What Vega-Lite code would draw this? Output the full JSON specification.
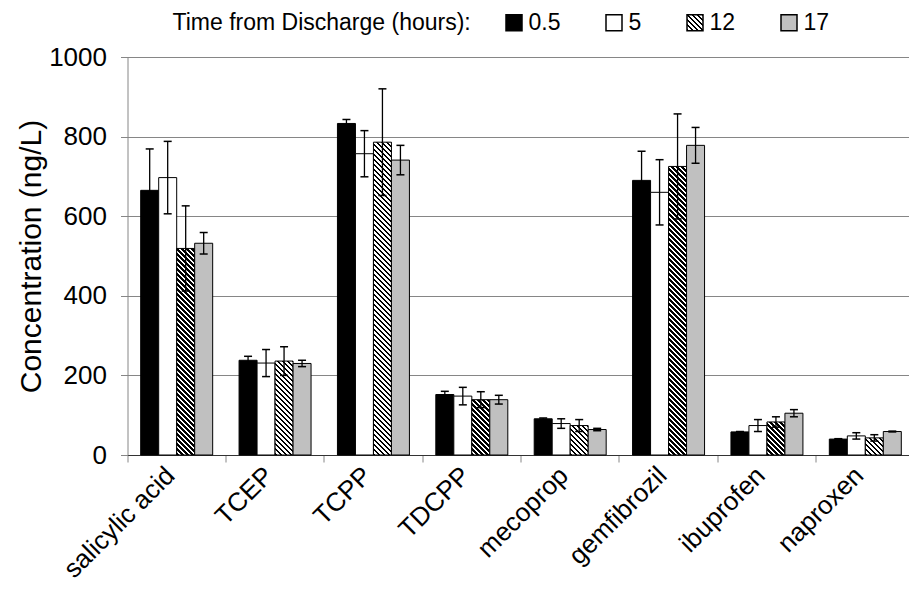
{
  "$schema": "https://vega.github.io/schema/vega-lite/v6.json",
  "width": 787,
  "height": 398,
  "autosize": {"type": "none"},
  "padding": {"left": 127.5, "top": 57, "right": 0, "bottom": 142},
  "background": "white",
  "config": {
    "font": "Liberation Sans",
    "view": {"stroke": null},
    "axis": {"labelFont": "Liberation Sans", "titleFont": "Liberation Sans", "labelColor": "#000", "titleColor": "#000"},
    "axisY": {
      "grid": true, "gridColor": "#868686", "gridWidth": 1, "tickCount": 5, "format": "d",
      "domainColor": "#868686", "tickColor": "#868686", "tickSize": 7,
      "labelFontSize": 26, "labelPadding": 14,
      "titleFontSize": 30, "titleFontWeight": "normal", "titlePadding": 2
    }
  },
  "params": [
    {"name": "hatch", "value": [
      {"offset":0,"color":"#000"},
      {"offset":0.00625,"color":"#000"},{"offset":0.00625,"color":"#fff"},{"offset":0.0125,"color":"#fff"},{"offset":0.0125,"color":"#000"},
      {"offset":0.01875,"color":"#000"},{"offset":0.01875,"color":"#fff"},{"offset":0.025,"color":"#fff"},{"offset":0.025,"color":"#000"},
      {"offset":0.03125,"color":"#000"},{"offset":0.03125,"color":"#fff"},{"offset":0.0375,"color":"#fff"},{"offset":0.0375,"color":"#000"},
      {"offset":0.04375,"color":"#000"},{"offset":0.04375,"color":"#fff"},{"offset":0.05,"color":"#fff"},{"offset":0.05,"color":"#000"},
      {"offset":0.05625,"color":"#000"},{"offset":0.05625,"color":"#fff"},{"offset":0.0625,"color":"#fff"},{"offset":0.0625,"color":"#000"},
      {"offset":0.06875,"color":"#000"},{"offset":0.06875,"color":"#fff"},{"offset":0.075,"color":"#fff"},{"offset":0.075,"color":"#000"},
      {"offset":0.08125,"color":"#000"},{"offset":0.08125,"color":"#fff"},{"offset":0.0875,"color":"#fff"},{"offset":0.0875,"color":"#000"},
      {"offset":0.09375,"color":"#000"},{"offset":0.09375,"color":"#fff"},{"offset":0.1,"color":"#fff"},{"offset":0.1,"color":"#000"},
      {"offset":0.10625,"color":"#000"},{"offset":0.10625,"color":"#fff"},{"offset":0.1125,"color":"#fff"},{"offset":0.1125,"color":"#000"},
      {"offset":0.11875,"color":"#000"},{"offset":0.11875,"color":"#fff"},{"offset":0.125,"color":"#fff"},{"offset":0.125,"color":"#000"},
      {"offset":0.13125,"color":"#000"},{"offset":0.13125,"color":"#fff"},{"offset":0.1375,"color":"#fff"},{"offset":0.1375,"color":"#000"},
      {"offset":0.14375,"color":"#000"},{"offset":0.14375,"color":"#fff"},{"offset":0.15,"color":"#fff"},{"offset":0.15,"color":"#000"},
      {"offset":0.15625,"color":"#000"},{"offset":0.15625,"color":"#fff"},{"offset":0.1625,"color":"#fff"},{"offset":0.1625,"color":"#000"},
      {"offset":0.16875,"color":"#000"},{"offset":0.16875,"color":"#fff"},{"offset":0.175,"color":"#fff"},{"offset":0.175,"color":"#000"},
      {"offset":0.18125,"color":"#000"},{"offset":0.18125,"color":"#fff"},{"offset":0.1875,"color":"#fff"},{"offset":0.1875,"color":"#000"},
      {"offset":0.19375,"color":"#000"},{"offset":0.19375,"color":"#fff"},{"offset":0.2,"color":"#fff"},{"offset":0.2,"color":"#000"},
      {"offset":0.20625,"color":"#000"},{"offset":0.20625,"color":"#fff"},{"offset":0.2125,"color":"#fff"},{"offset":0.2125,"color":"#000"},
      {"offset":0.21875,"color":"#000"},{"offset":0.21875,"color":"#fff"},{"offset":0.225,"color":"#fff"},{"offset":0.225,"color":"#000"},
      {"offset":0.23125,"color":"#000"},{"offset":0.23125,"color":"#fff"},{"offset":0.2375,"color":"#fff"},{"offset":0.2375,"color":"#000"},
      {"offset":0.24375,"color":"#000"},{"offset":0.24375,"color":"#fff"},{"offset":0.25,"color":"#fff"},{"offset":0.25,"color":"#000"},
      {"offset":0.25625,"color":"#000"},{"offset":0.25625,"color":"#fff"},{"offset":0.2625,"color":"#fff"},{"offset":0.2625,"color":"#000"},
      {"offset":0.26875,"color":"#000"},{"offset":0.26875,"color":"#fff"},{"offset":0.275,"color":"#fff"},{"offset":0.275,"color":"#000"},
      {"offset":0.28125,"color":"#000"},{"offset":0.28125,"color":"#fff"},{"offset":0.2875,"color":"#fff"},{"offset":0.2875,"color":"#000"},
      {"offset":0.29375,"color":"#000"},{"offset":0.29375,"color":"#fff"},{"offset":0.3,"color":"#fff"},{"offset":0.3,"color":"#000"},
      {"offset":0.30625,"color":"#000"},{"offset":0.30625,"color":"#fff"},{"offset":0.3125,"color":"#fff"},{"offset":0.3125,"color":"#000"},
      {"offset":0.31875,"color":"#000"},{"offset":0.31875,"color":"#fff"},{"offset":0.325,"color":"#fff"},{"offset":0.325,"color":"#000"},
      {"offset":0.33125,"color":"#000"},{"offset":0.33125,"color":"#fff"},{"offset":0.3375,"color":"#fff"},{"offset":0.3375,"color":"#000"},
      {"offset":0.34375,"color":"#000"},{"offset":0.34375,"color":"#fff"},{"offset":0.35,"color":"#fff"},{"offset":0.35,"color":"#000"},
      {"offset":0.35625,"color":"#000"},{"offset":0.35625,"color":"#fff"},{"offset":0.3625,"color":"#fff"},{"offset":0.3625,"color":"#000"},
      {"offset":0.36875,"color":"#000"},{"offset":0.36875,"color":"#fff"},{"offset":0.375,"color":"#fff"},{"offset":0.375,"color":"#000"},
      {"offset":0.38125,"color":"#000"},{"offset":0.38125,"color":"#fff"},{"offset":0.3875,"color":"#fff"},{"offset":0.3875,"color":"#000"},
      {"offset":0.39375,"color":"#000"},{"offset":0.39375,"color":"#fff"},{"offset":0.4,"color":"#fff"},{"offset":0.4,"color":"#000"},
      {"offset":0.40625,"color":"#000"},{"offset":0.40625,"color":"#fff"},{"offset":0.4125,"color":"#fff"},{"offset":0.4125,"color":"#000"},
      {"offset":0.41875,"color":"#000"},{"offset":0.41875,"color":"#fff"},{"offset":0.425,"color":"#fff"},{"offset":0.425,"color":"#000"},
      {"offset":0.43125,"color":"#000"},{"offset":0.43125,"color":"#fff"},{"offset":0.4375,"color":"#fff"},{"offset":0.4375,"color":"#000"},
      {"offset":0.44375,"color":"#000"},{"offset":0.44375,"color":"#fff"},{"offset":0.45,"color":"#fff"},{"offset":0.45,"color":"#000"},
      {"offset":0.45625,"color":"#000"},{"offset":0.45625,"color":"#fff"},{"offset":0.4625,"color":"#fff"},{"offset":0.4625,"color":"#000"},
      {"offset":0.46875,"color":"#000"},{"offset":0.46875,"color":"#fff"},{"offset":0.475,"color":"#fff"},{"offset":0.475,"color":"#000"},
      {"offset":0.48125,"color":"#000"},{"offset":0.48125,"color":"#fff"},{"offset":0.4875,"color":"#fff"},{"offset":0.4875,"color":"#000"},
      {"offset":0.49375,"color":"#000"},{"offset":0.49375,"color":"#fff"},{"offset":0.5,"color":"#fff"},{"offset":0.5,"color":"#000"},
      {"offset":0.50625,"color":"#000"},{"offset":0.50625,"color":"#fff"},{"offset":0.5125,"color":"#fff"},{"offset":0.5125,"color":"#000"},
      {"offset":0.51875,"color":"#000"},{"offset":0.51875,"color":"#fff"},{"offset":0.525,"color":"#fff"},{"offset":0.525,"color":"#000"},
      {"offset":0.53125,"color":"#000"},{"offset":0.53125,"color":"#fff"},{"offset":0.5375,"color":"#fff"},{"offset":0.5375,"color":"#000"},
      {"offset":0.54375,"color":"#000"},{"offset":0.54375,"color":"#fff"},{"offset":0.55,"color":"#fff"},{"offset":0.55,"color":"#000"},
      {"offset":0.55625,"color":"#000"},{"offset":0.55625,"color":"#fff"},{"offset":0.5625,"color":"#fff"},{"offset":0.5625,"color":"#000"},
      {"offset":0.56875,"color":"#000"},{"offset":0.56875,"color":"#fff"},{"offset":0.575,"color":"#fff"},{"offset":0.575,"color":"#000"},
      {"offset":0.58125,"color":"#000"},{"offset":0.58125,"color":"#fff"},{"offset":0.5875,"color":"#fff"},{"offset":0.5875,"color":"#000"},
      {"offset":0.59375,"color":"#000"},{"offset":0.59375,"color":"#fff"},{"offset":0.6,"color":"#fff"},{"offset":0.6,"color":"#000"},
      {"offset":0.60625,"color":"#000"},{"offset":0.60625,"color":"#fff"},{"offset":0.6125,"color":"#fff"},{"offset":0.6125,"color":"#000"},
      {"offset":0.61875,"color":"#000"},{"offset":0.61875,"color":"#fff"},{"offset":0.625,"color":"#fff"},{"offset":0.625,"color":"#000"},
      {"offset":0.63125,"color":"#000"},{"offset":0.63125,"color":"#fff"},{"offset":0.6375,"color":"#fff"},{"offset":0.6375,"color":"#000"},
      {"offset":0.64375,"color":"#000"},{"offset":0.64375,"color":"#fff"},{"offset":0.65,"color":"#fff"},{"offset":0.65,"color":"#000"},
      {"offset":0.65625,"color":"#000"},{"offset":0.65625,"color":"#fff"},{"offset":0.6625,"color":"#fff"},{"offset":0.6625,"color":"#000"},
      {"offset":0.66875,"color":"#000"},{"offset":0.66875,"color":"#fff"},{"offset":0.675,"color":"#fff"},{"offset":0.675,"color":"#000"},
      {"offset":0.68125,"color":"#000"},{"offset":0.68125,"color":"#fff"},{"offset":0.6875,"color":"#fff"},{"offset":0.6875,"color":"#000"},
      {"offset":0.69375,"color":"#000"},{"offset":0.69375,"color":"#fff"},{"offset":0.7,"color":"#fff"},{"offset":0.7,"color":"#000"},
      {"offset":0.70625,"color":"#000"},{"offset":0.70625,"color":"#fff"},{"offset":0.7125,"color":"#fff"},{"offset":0.7125,"color":"#000"},
      {"offset":0.71875,"color":"#000"},{"offset":0.71875,"color":"#fff"},{"offset":0.725,"color":"#fff"},{"offset":0.725,"color":"#000"},
      {"offset":0.73125,"color":"#000"},{"offset":0.73125,"color":"#fff"},{"offset":0.7375,"color":"#fff"},{"offset":0.7375,"color":"#000"},
      {"offset":0.74375,"color":"#000"},{"offset":0.74375,"color":"#fff"},{"offset":0.75,"color":"#fff"},{"offset":0.75,"color":"#000"},
      {"offset":0.75625,"color":"#000"},{"offset":0.75625,"color":"#fff"},{"offset":0.7625,"color":"#fff"},{"offset":0.7625,"color":"#000"},
      {"offset":0.76875,"color":"#000"},{"offset":0.76875,"color":"#fff"},{"offset":0.775,"color":"#fff"},{"offset":0.775,"color":"#000"},
      {"offset":0.78125,"color":"#000"},{"offset":0.78125,"color":"#fff"},{"offset":0.7875,"color":"#fff"},{"offset":0.7875,"color":"#000"},
      {"offset":0.79375,"color":"#000"},{"offset":0.79375,"color":"#fff"},{"offset":0.8,"color":"#fff"},{"offset":0.8,"color":"#000"},
      {"offset":0.80625,"color":"#000"},{"offset":0.80625,"color":"#fff"},{"offset":0.8125,"color":"#fff"},{"offset":0.8125,"color":"#000"},
      {"offset":0.81875,"color":"#000"},{"offset":0.81875,"color":"#fff"},{"offset":0.825,"color":"#fff"},{"offset":0.825,"color":"#000"},
      {"offset":0.83125,"color":"#000"},{"offset":0.83125,"color":"#fff"},{"offset":0.8375,"color":"#fff"},{"offset":0.8375,"color":"#000"},
      {"offset":0.84375,"color":"#000"},{"offset":0.84375,"color":"#fff"},{"offset":0.85,"color":"#fff"}
    ]}
  ],
  "data": {"values": [
    {"compound": "salicylic acid", "hours": "0.5", "value": 665, "lo": 561, "hi": 769},
    {"compound": "salicylic acid", "hours": "5", "value": 697, "lo": 606, "hi": 788},
    {"compound": "salicylic acid", "hours": "12", "value": 519, "lo": 412, "hi": 626},
    {"compound": "salicylic acid", "hours": "17", "value": 532, "lo": 505, "hi": 559},
    {"compound": "TCEP", "hours": "0.5", "value": 238, "lo": 228, "hi": 248},
    {"compound": "TCEP", "hours": "5", "value": 231, "lo": 197, "hi": 265},
    {"compound": "TCEP", "hours": "12", "value": 236, "lo": 200, "hi": 272},
    {"compound": "TCEP", "hours": "17", "value": 230, "lo": 222, "hi": 238},
    {"compound": "TCPP", "hours": "0.5", "value": 833, "lo": 823, "hi": 843},
    {"compound": "TCPP", "hours": "5", "value": 757, "lo": 699, "hi": 815},
    {"compound": "TCPP", "hours": "12", "value": 786, "lo": 652, "hi": 920},
    {"compound": "TCPP", "hours": "17", "value": 741, "lo": 704, "hi": 778},
    {"compound": "TDCPP", "hours": "0.5", "value": 152, "lo": 144, "hi": 160},
    {"compound": "TDCPP", "hours": "5", "value": 148, "lo": 126, "hi": 170},
    {"compound": "TDCPP", "hours": "12", "value": 139, "lo": 119, "hi": 159},
    {"compound": "TDCPP", "hours": "17", "value": 139, "lo": 128, "hi": 150},
    {"compound": "mecoprop", "hours": "0.5", "value": 91, "lo": 89, "hi": 93},
    {"compound": "mecoprop", "hours": "5", "value": 79, "lo": 67, "hi": 91},
    {"compound": "mecoprop", "hours": "12", "value": 74, "lo": 59, "hi": 89},
    {"compound": "mecoprop", "hours": "17", "value": 64, "lo": 61, "hi": 67},
    {"compound": "gemfibrozil", "hours": "0.5", "value": 690, "lo": 617, "hi": 763},
    {"compound": "gemfibrozil", "hours": "5", "value": 660, "lo": 578, "hi": 742},
    {"compound": "gemfibrozil", "hours": "12", "value": 725, "lo": 593, "hi": 857},
    {"compound": "gemfibrozil", "hours": "17", "value": 778, "lo": 733, "hi": 823},
    {"compound": "ibuprofen", "hours": "0.5", "value": 58, "lo": 57, "hi": 59},
    {"compound": "ibuprofen", "hours": "5", "value": 74, "lo": 59, "hi": 89},
    {"compound": "ibuprofen", "hours": "12", "value": 83, "lo": 70, "hi": 96},
    {"compound": "ibuprofen", "hours": "17", "value": 105, "lo": 96, "hi": 114},
    {"compound": "naproxen", "hours": "0.5", "value": 40, "lo": 39, "hi": 41},
    {"compound": "naproxen", "hours": "5", "value": 48, "lo": 40, "hi": 56},
    {"compound": "naproxen", "hours": "12", "value": 43, "lo": 35, "hi": 51},
    {"compound": "naproxen", "hours": "17", "value": 59, "lo": 58, "hi": 60}
  ]},
  "encoding": {
    "x": {
      "field": "compound", "type": "nominal",
      "sort": ["salicylic acid", "TCEP", "TCPP", "TDCPP", "mecoprop", "gemfibrozil", "ibuprofen", "naproxen"],
      "scale": {"paddingInner": 0, "paddingOuter": 0},
      "axis": {
        "title": null, "bandPosition": 0, "labelOffset": -6, "labelAngle": -45,
        "labelAlign": "right", "labelBaseline": "middle", "labelFontSize": 26,
        "labelPadding": 9, "labelLimit": 300, "tickSize": 7, "tickColor": "#868686",
        "domainColor": "#333", "grid": false
      }
    },
    "xOffset": {
      "field": "hours", "type": "nominal", "sort": ["0.5", "5", "12", "17"],
      "scale": {"paddingInner": 0, "paddingOuter": 0.733}
    }
  },
  "layer": [
    {
      "mark": {"type": "bar", "stroke": "#000", "strokeWidth": 1, "opacity": 1},
      "encoding": {
        "y": {
          "field": "value", "type": "quantitative", "stack": null, "title": "Concentration (ng/L)",
          "scale": {"domain": [0, 1000], "nice": false}
        },
        "fill": {
          "condition": {
            "test": "datum.hours === '12'",
            "value": {"expr": "{gradient: 'linear', x1: 0, y1: 1, x2: 400*bandwidth('xOffset')/(pow(bandwidth('xOffset'),2)+pow(scale('y',0)-scale('y',datum.value),2)), y2: 1-400*(scale('y',0)-scale('y',datum.value))/(pow(bandwidth('xOffset'),2)+pow(scale('y',0)-scale('y',datum.value),2)), stops: hatch}"}
          },
          "field": "hours", "type": "nominal",
          "scale": {"domain": ["0.5", "5", "12", "17"], "range": ["#000000", "#ffffff", {"expr": "{gradient: 'linear', x1: 0, y1: 1, x2: 12.5, y2: -11.5, stops: hatch}"}, "#c0c0c0"]},
          "legend": {
            "orient": "none", "legendX": 45, "legendY": -46, "direction": "horizontal",
            "title": "Time from Discharge (hours):", "titleOrient": "left", "titleFontSize": 23,
            "titleFontWeight": "normal", "titleColor": "#000", "titlePadding": 31, "titleLimit": 400,
            "labelFontSize": 23, "labelColor": "#000", "labelOffset": 3, "columnPadding": 42,
            "symbolType": "square", "symbolSize": 256, "symbolOpacity": 1
          }
        }
      }
    },
    {
      "mark": {"type": "rule", "color": "#000", "strokeWidth": 1.3, "opacity": 1},
      "encoding": {
        "y": {"field": "lo", "type": "quantitative", "title": "Concentration (ng/L)", "scale": {"domain": [0, 1000], "nice": false}},
        "y2": {"field": "hi"}
      }
    },
    {
      "mark": {"type": "tick", "color": "#000", "size": 8, "thickness": 1.5, "opacity": 1},
      "encoding": {
        "y": {"field": "lo", "type": "quantitative", "title": "Concentration (ng/L)", "scale": {"domain": [0, 1000], "nice": false}}
      }
    },
    {
      "mark": {"type": "tick", "color": "#000", "size": 8, "thickness": 1.5, "opacity": 1},
      "encoding": {
        "y": {"field": "hi", "type": "quantitative", "title": "Concentration (ng/L)", "scale": {"domain": [0, 1000], "nice": false}}
      }
    }
  ]
}
